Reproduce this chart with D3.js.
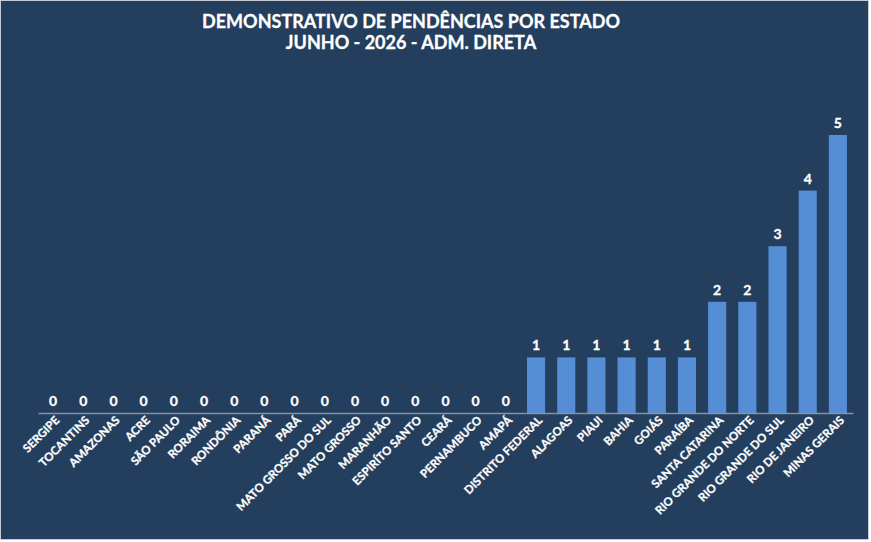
<!DOCTYPE html>
<html lang="pt">
<head>
<meta charset="UTF-8">
<title>Demonstrativo de pendências por estado</title>
<script src="https://cdn.jsdelivr.net/npm/d3@7"></script>
<style>
  body { margin: 0; background: #fff; }
  svg { display: block; font-family: Lato, "Open Sans", sans-serif; }
</style>
</head>
<body>
<div id="chart"></div>
<script>
// data
var estados = ["SERGIPE", "TOCANTINS", "AMAZONAS", "ACRE", "SÃO PAULO", "RORAIMA", "RONDÔNIA",
    "PARANÁ", "PARÁ", "MATO GROSSO DO SUL", "MATO GROSSO", "MARANHÃO", "ESPIRÍTO SANTO", "CEARÁ",
    "PERNAMBUCO", "AMAPÁ", "DISTRITO FEDERAL", "ALAGOAS", "PIAUI", "BAHIA", "GOIÁS", "PARAÍBA",
    "SANTA CATARINA", "RIO GRANDE DO NORTE", "RIO GRANDE DO SUL", "RIO DE JANEIRO", "MINAS GERAIS"];
var pendencias = [0, 0, 0, 0, 0, 0, 0, 0, 0, 0, 0, 0, 0, 0, 0, 0, 1, 1, 1, 1, 1, 1, 2, 2, 3, 4, 5];
var titulo = ["DEMONSTRATIVO DE PENDÊNCIAS POR ESTADO", "JUNHO - 2026 - ADM. DIRETA"];

var width = 871, height = 542;
var plotLeft = 38, plotRight = 853, baseY = 413;

var svg = d3.select("#chart").append("svg")
    .attr("width", width)
    .attr("height", height);

// background + thin frame
svg.append("rect")
    .attr("x", 0.5).attr("y", 0.5)
    .attr("width", 868).attr("height", 539)
    .attr("fill", "#243e5e")
    .attr("stroke", "#c8ccd2")
    .attr("stroke-width", 1);

// title
svg.append("text")
    .attr("x", 411).attr("y", 0)
    .attr("text-anchor", "middle")
    .attr("fill", "#fff")
    .attr("stroke", "#fff")
    .attr("stroke-width", 0.3)
    .attr("font-weight", "bold")
    .attr("font-size", 18)
    .selectAll("tspan")
    .data(titulo)
    .join("tspan")
    .attr("x", 411)
    .attr("y", function (d, i) { return 28 + i * 21; })
    .text(function (d) { return d; });

var x = d3.scaleBand()
    .domain(estados)
    .range([plotLeft, plotRight])
    .paddingInner(0.4)
    .paddingOuter(0.2);

var y = d3.scaleLinear()
    .domain([0, 5])
    .range([baseY, 135]);

// bars
svg.selectAll("rect.bar")
    .data(pendencias)
    .join("rect")
    .attr("class", "bar")
    .attr("x", function (d, i) { return x(estados[i]); })
    .attr("y", function (d) { return y(d); })
    .attr("width", x.bandwidth())
    .attr("height", function (d) { return baseY - y(d); })
    .attr("fill", "#558ed5");

// value labels
svg.selectAll("text.valor")
    .data(pendencias)
    .join("text")
    .attr("class", "valor")
    .attr("x", function (d, i) { return x(estados[i]) + x.bandwidth() / 2; })
    .attr("y", function (d) { return y(d) - 7; })
    .attr("text-anchor", "middle")
    .attr("fill", "#fff")
    .attr("stroke", "#fff")
    .attr("stroke-width", 0.3)
    .attr("font-weight", "bold")
    .attr("font-size", 14)
    .text(function (d) { return d; });

// x axis
var xAxis = svg.append("g")
    .attr("transform", "translate(0," + baseY + ")")
    .call(d3.axisBottom(x).tickSize(0).tickSizeOuter(0));

xAxis.select(".domain")
    .attr("stroke", "#8593a6")
    .attr("stroke-width", 1.5);

xAxis.selectAll(".tick text")
    .attr("fill", "#fff")
    .attr("stroke", "#fff")
    .attr("stroke-width", 0.3)
    .attr("font-family", "Lato, 'Open Sans', sans-serif")
    .attr("font-weight", "bold")
    .attr("font-size", 11.5)
    .attr("text-anchor", "end")
    .attr("dy", 0)
    .attr("x", 0)
    .attr("y", 0)
    .attr("transform", "translate(7,8) rotate(-45)");
</script>
</body>
</html>
